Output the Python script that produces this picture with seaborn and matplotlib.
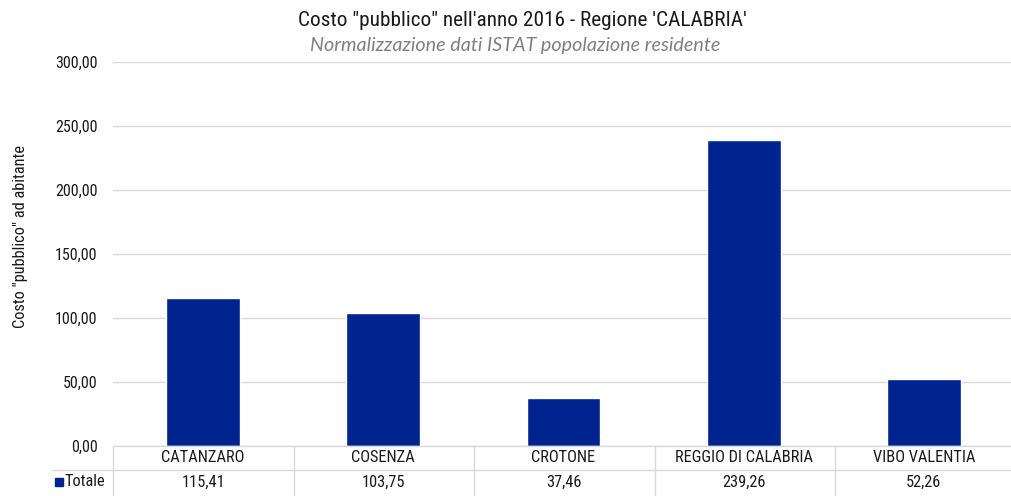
import matplotlib
matplotlib.use("Agg")
import matplotlib.pyplot as plt
from matplotlib import font_manager as fm
from matplotlib.lines import Line2D
import seaborn as sns
import pandas as pd

categories = ["CATANZARO", "COSENZA", "CROTONE", "REGGIO DI CALABRIA", "VIBO VALENTIA"]
values = [115.41, 103.75, 37.46, 239.26, 52.26]
value_labels = ["115,41", "103,75", "37,46", "239,26", "52,26"]
yticks = [0, 50, 100, 150, 200, 250, 300]
ytick_labels = ["0,00", "50,00", "100,00", "150,00", "200,00", "250,00", "300,00"]
series_name = "Totale"
title = "Costo \"pubblico\" nell'anno 2016 - Regione 'CALABRIA'"
subtitle = "Normalizzazione dati ISTAT popolazione residente"
ylabel = "Costo \"pubblico\" ad abitante"

sns.set_theme(style="white")
avail = {f.name for f in fm.fontManager.ttflist}
cond = [f for f in ["Roboto Condensed", "Liberation Sans Narrow", "Roboto", "DejaVu Sans"] if f in avail]
plt.rcParams['font.family'] = cond + ["DejaVu Sans"]
sub_fam = [f for f in ["Lato", "Liberation Sans"] if f in avail] + ["DejaVu Sans"]

BAR = "#00248F"
GRID = "#D9D9D9"
TXT = "#1A1A1A"
W, H = 1012, 496
fig = plt.figure(figsize=(W / 100, H / 100), dpi=100)

def fx(x):
    return x / W

def fy(y):
    return 1 - y / H

ax = fig.add_axes([fx(113), fy(446), fx(1014) - fx(113), fy(62) - fy(446)])
df = pd.DataFrame({"cat": categories, "val": values})
sns.barplot(data=df, x="cat", y="val", color=BAR, width=0.41, ax=ax, saturation=1)
ax.set_xlim(-0.5, len(categories) - 0.5)
ax.set_ylim(0, 300)
ax.set_yticks(yticks)
ax.set_yticklabels(ytick_labels, fontsize=11.5, color=TXT)
ax.tick_params(axis="y", length=0, pad=11)
ax.set_xticks([])
ax.set_xlabel("")
ax.set_ylabel("")
for s in ax.spines.values():
    s.set_visible(False)
ax.yaxis.grid(True, color=GRID, linewidth=1)
ax.set_axisbelow(True)

# titles
fig.text(fx(522), fy(20), title, ha="center", va="center", fontsize=15.3, color=TXT)
fig.text(fx(515), fy(46), subtitle, ha="center", va="center", fontsize=14.2,
         color="#808080", style="italic", family=sub_fam)
fig.text(fx(21), fy(237), ylabel, ha="center", va="center", rotation=90, fontsize=11.8, color=TXT)

# data table
tf = fig.transFigure
lines = [
    ((113, 1012), (446, 446)),
    ((52, 1012), (470, 470)),
]
for xb in [113, 294, 474, 655, 835]:
    lines.append(((xb, xb), (446, 496)))
for (xs, ys) in lines:
    fig.add_artist(Line2D([fx(xs[0]), fx(xs[1])], [fy(ys[0]), fy(ys[1])], color=GRID, lw=1, transform=tf))

trans = ax.get_xaxis_transform()
for i, (c, v) in enumerate(zip(categories, value_labels)):
    ax.text(i, -(458 - 446) / 384, c, transform=trans, ha="center", va="center", fontsize=11.8,
            color=TXT, clip_on=False)
    ax.text(i, -(482 - 446) / 384, v, transform=trans, ha="center", va="center", fontsize=11.8,
            color=TXT, clip_on=False)

fig.add_artist(plt.Rectangle((fx(55), fy(486)), fx(8), fy(478) - fy(486), color=BAR, transform=tf))
fig.text(fx(65), fy(482), series_name, ha="left", va="center", fontsize=11.8, color=TXT)

fig.savefig("out.png", dpi=100)
